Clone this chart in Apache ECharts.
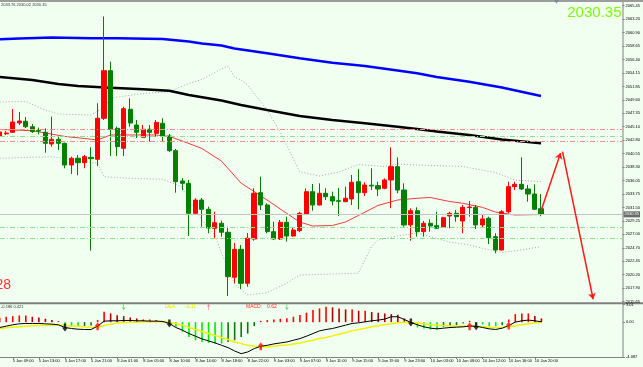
<!DOCTYPE html>
<html><head><meta charset="utf-8">
<script src="https://cdn.jsdelivr.net/npm/echarts@6/dist/echarts.min.js"></script>
<style>html,body{margin:0;padding:0;background:#f0fff0;}#c{width:643px;height:367px;}</style>
</head><body><div id="c"></div>
<script>
// ---------- data ----------
// bar index 0 = "5 Jan 05:00"; the first visible candle is bar 2
const timeLabels = ['5 Jan 05:00','5 Jan 09:00','5 Jan 13:00','5 Jan 17:00','5 Jan 21:00','8 Jan 01:00','8 Jan 05:00','8 Jan 10:00','8 Jan 14:00','8 Jan 18:00','8 Jan 22:00','9 Jan 03:00','9 Jan 07:00','9 Jan 11:00','9 Jan 15:00','9 Jan 19:00','9 Jan 23:00','10 Jan 03:00','10 Jan 08:00','10 Jan 12:00','10 Jan 16:00','10 Jan 20:00'];
const labelStep = 4;      // one time label every 4 bars
const firstCandleBar = 2; // bar index of the first candle in the arrays below
const viewBars = [2.046, 97.503]; // visible bar range of the window

const opens  = [2043.53,2043.90,2044.15,2045.72,2046.00,2045.09,2044.45,2044.15,2042.18,2042.97,2042.30,2038.65,2039.78,2039.04,2039.94,2039.61,2046.51,2054.52,2044.82,2041.46,2048.02,2045.38,2043.31,2044.66,2043.98,2045.67,2043.53,2041.06,2035.96,2035.57,2030.52,2032.76,2031.20,2028.00,2028.84,2027.33,2019.76,2024.47,2018.75,2026.20,2033.99,2031.92,2027.43,2026.20,2029.01,2026.70,2027.60,2030.41,2034.16,2031.92,2033.89,2033.32,2032.64,2032.48,2032.93,2035.84,2033.99,2035.24,2035.17,2034.73,2036.13,2038.37,2034.44,2028.56,2030.96,2027.43,2028.84,2028.44,2028.17,2030.07,2030.52,2029.23,2031.48,2031.53,2028.56,2029.68,2026.59,2024.35,2030.79,2035.00,2035.40,2034.61,2033.77,2031.30];
const highs  = [2044.54,2044.37,2048.07,2047.57,2046.73,2045.55,2044.93,2044.82,2046.78,2043.41,2042.40,2040.05,2040.33,2040.33,2041.63,2049.03,2063.63,2056.03,2045.13,2048.46,2049.87,2046.22,2045.38,2045.38,2046.22,2046.51,2043.87,2041.34,2036.46,2036.13,2033.05,2033.10,2031.63,2030.79,2029.28,2028.27,2025.53,2025.19,2027.21,2034.73,2036.68,2032.21,2029.11,2029.40,2029.95,2028.17,2030.79,2034.73,2035.45,2035.57,2034.73,2034.16,2034.78,2035.00,2036.97,2037.93,2035.74,2038.10,2035.84,2036.41,2041.63,2039.94,2035.57,2031.37,2031.53,2029.23,2029.51,2030.79,2029.95,2030.79,2031.08,2031.92,2032.59,2031.92,2030.24,2029.95,2027.16,2031.08,2035.84,2035.84,2039.94,2035.29,2035.40,2033.76];
const lows   = [2043.36,2043.70,2044.03,2045.38,2044.87,2044.03,2043.81,2040.72,2041.73,2041.17,2038.10,2037.14,2036.92,2038.10,2024.23,2038.48,2046.22,2040.16,2040.16,2040.16,2045.09,2043.19,2043.31,2042.57,2043.41,2042.57,2040.84,2034.00,2034.44,2026.70,2030.24,2028.27,2027.16,2026.37,2026.59,2016.61,2018.75,2017.79,2018.17,2025.91,2031.08,2027.16,2026.03,2026.03,2025.75,2026.59,2027.33,2030.24,2030.96,2031.84,2032.76,2031.87,2030.07,2032.43,2031.92,2031.20,2033.43,2034.44,2033.43,2034.56,2031.37,2033.89,2028.27,2025.91,2026.59,2026.59,2027.43,2027.88,2028.05,2028.00,2029.11,2027.16,2029.95,2027.88,2028.17,2025.36,2023.79,2024.27,2030.52,2034.44,2034.44,2032.48,2031.08,2030.02];
const closes = [2044.20,2044.03,2045.88,2046.05,2045.09,2044.25,2044.37,2042.30,2042.97,2042.30,2038.65,2039.78,2039.04,2040.05,2039.71,2046.51,2054.52,2044.66,2041.73,2048.12,2045.72,2044.15,2044.66,2044.15,2045.83,2043.53,2041.06,2035.84,2035.57,2030.52,2032.76,2031.20,2028.05,2028.94,2027.33,2019.86,2024.47,2018.75,2026.32,2033.89,2031.92,2027.43,2026.20,2029.01,2026.70,2027.71,2030.52,2034.16,2031.92,2033.89,2033.32,2032.59,2032.54,2033.05,2035.74,2033.99,2035.29,2035.12,2034.61,2036.13,2038.37,2034.44,2028.56,2030.96,2027.43,2028.84,2028.39,2028.00,2029.78,2030.52,2029.95,2031.53,2031.58,2028.56,2029.57,2026.42,2024.35,2030.79,2035.00,2035.40,2034.61,2033.77,2031.20,2030.35];

// moving averages / bands: [bar index, price] read at sample bars
const blueMA  = [[2,2059.80],[5,2059.93],[10,2060.10],[16,2059.98],[20,2059.97],[27,2059.85],[31,2059.43],[33,2059.09],[36,2058.75],[38,2058.25],[43,2057.44],[48,2056.60],[53,2055.86],[58,2055.31],[63,2054.55],[66,2054.08],[69,2053.46],[74,2052.67],[79,2051.69],[85,2050.26]];
const blackMA = [[2,2053.46],[7,2052.95],[11,2052.28],[14,2051.94],[19,2051.66],[24,2051.39],[28,2051.13],[31,2050.43],[36,2049.50],[39,2048.75],[43,2047.90],[48,2046.89],[53,2046.22],[58,2045.67],[63,2045.09],[66,2044.71],[69,2044.29],[74,2043.70],[79,2042.94],[85,2042.30]];
const redMA   = [[2,2044.62],[7,2044.42],[12,2043.45],[15,2043.11],[17,2042.86],[19,2043.70],[26,2043.70],[28,2043.45],[30,2042.69],[33,2041.43],[36,2039.32],[39,2035.62],[43,2032.76],[46,2030.52],[48,2029.06],[50,2028.39],[53,2028.47],[55,2029.06],[57,2030.15],[60,2031.84],[63,2032.76],[66,2033.05],[68,2033.18],[71,2032.51],[73,2032.21],[76,2031.53],[78,2030.74],[81,2030.24],[85,2030.32]];
const bbUpper = [[2,2049.25],[6,2049.33],[9,2047.90],[11,2047.23],[16,2047.06],[18,2048.41],[19,2049.92],[24,2050.68],[28,2050.98],[31,2052.36],[33,2053.03],[36,2054.80],[37,2055.31],[38,2053.46],[39,2052.95],[40,2052.11],[43,2047.90],[45,2044.20],[48,2037.52],[51,2036.80],[54,2037.47],[57,2038.73],[61,2038.40],[63,2038.82],[66,2038.65],[73,2038.40],[78,2037.39],[81,2036.13],[85,2035.84]];
const bbLower = [[2,2039.78],[10,2040.05],[17,2038.94],[18,2036.68],[22,2036.41],[27,2036.25],[30,2034.95],[31,2032.76],[33,2029.40],[35,2026.87],[36,2023.85],[38,2018.63],[40,2016.78],[43,2017.17],[46,2018.75],[48,2020.14],[53,2020.31],[57,2020.43],[59,2024.91],[60,2026.03],[63,2026.71],[66,2027.21],[71,2025.70],[74,2025.19],[76,2024.64],[79,2023.93],[82,2024.35],[85,2024.91]];

const priceTicks = ['2065.45','2063.20','2060.90','2058.65','2056.40','2054.15','2051.85','2049.60','2047.35','2045.10','2042.80','2040.55','2038.30','2036.05','2033.75','2031.50','2029.25','2027.00','2024.70','2022.45','2020.20','2017.90','2015.65'];
const redLevels   = [2044.66, 2042.64];
const greenLevels = [2043.53, 2028.22, 2026.32];
const lastPrice = 2030.35;
const headerText = '2033.76 2030.02 2030.35';
const forecastUp   = [[85,2030.91],[88,2040.67]];
const forecastDown = [[88.3,2040.90],[93,2016.06]];

// MACD window
const macdHist = [0.75,0.93,1.04,1.16,1.16,0.93,0.81,0.58,0.35,0.17,-0.69,-0.81,-0.81,-0.69,-0.58,0.35,1.80,1.50,1.20,1.04,0.81,0.64,0.46,0.46,0.35,0.17,-0.23,-0.81,-1.68,-2.55,-3.13,-3.42,-3.59,-3.70,-3.70,-3.42,-3.13,-2.55,-1.97,-0.69,0.23,0.35,0.46,0.58,0.69,0.93,1.22,1.62,2.08,2.37,2.66,2.55,2.37,2.20,2.20,1.97,1.97,1.74,1.62,1.50,1.39,1.27,0.64,-0.23,-0.93,-1.10,-1.27,-1.27,-0.81,-0.69,-0.52,-0.23,0.23,-0.23,-0.40,-0.69,-0.69,-0.52,0.46,1.39,1.50,1.50,1.04,0.64];
const macdDif  = [-0.93,-0.69,-0.46,-0.29,-0.23,-0.23,-0.23,-0.29,-0.35,-0.46,-0.93,-1.10,-1.22,-1.27,-1.27,-0.69,0.17,0.23,0.23,0.29,0.29,0.23,0.23,0.17,0.17,0.12,-0.23,-0.93,-1.39,-1.97,-2.43,-2.90,-3.24,-3.59,-4.00,-4.40,-4.98,-5.44,-5.15,-4.57,-4.17,-4.00,-3.76,-3.59,-3.42,-3.13,-2.84,-2.43,-1.97,-1.51,-1.27,-1.10,-0.81,-0.52,-0.23,-0.12,0.06,0.23,0.35,0.52,0.93,0.93,0.46,-0.06,-0.46,-0.81,-1.04,-1.16,-1.04,-0.93,-0.87,-0.81,-0.69,-0.69,-0.93,-1.16,-1.27,-1.04,-0.58,0.00,0.23,0.35,0.23,0.06];
const macdDea  = [-1.10,-0.98,-0.87,-0.78,-0.70,-0.64,-0.60,-0.57,-0.55,-0.55,-0.58,-0.65,-0.73,-0.82,-0.90,-0.93,-0.58,-0.35,-0.17,-0.06,0.00,0.00,0.06,0.06,0.06,0.06,0.00,-0.23,-0.52,-0.93,-1.27,-1.62,-1.97,-2.32,-2.66,-3.01,-3.42,-3.71,-4.00,-4.17,-4.28,-4.28,-4.17,-4.05,-3.94,-3.76,-3.59,-3.36,-3.13,-2.84,-2.66,-2.37,-2.08,-1.80,-1.51,-1.27,-1.04,-0.81,-0.64,-0.46,-0.29,-0.12,0.00,-0.06,-0.17,-0.29,-0.41,-0.52,-0.58,-0.64,-0.69,-0.69,-0.69,-0.75,-0.81,-0.87,-0.93,-0.93,-0.81,-0.64,-0.46,-0.29,-0.17,-0.06];
const crossDownBars = [12,28,65,75];
const crossUpBars   = [17,42,74,80];
const signalDownBars = [21,46];
const signalUpBars   = [34];
const signalLevel = 2.6;
const macdMax = 3.01, macdMin = -6.02;
const macdAxisText = ['3.01','0.00','-4.087'];
const macdHeader = '-0.186 0.421';
const deaText = '-0.11', macdText = '0.62';

// ---------- build ----------
const idx = j => firstCandleBar + j;
const candleData = opens.map((o, j) => [idx(j), o, closes[j], lows[j], highs[j]]);
const histData = macdHist.map((v, j) => {
  const prev = j > 0 ? macdHist[j-1] : v;
  let c;
  if (v >= 0) c = v >= prev ? '#ff0000' : '#b00000';
  else c = v <= prev ? '#00ee00' : '#008000';
  return {value:[idx(j), v], itemStyle:{color:c}};
});
const difData = macdDif.map((v, j) => [idx(j), v]);
const deaData = macdDea.map((v, j) => [idx(j), v]);
const difAt = i => macdDif[i - firstCandleBar];
const labelBars = timeLabels.map((_, j) => j * labelStep).filter(b => b >= viewBars[0]);
const downArrow = 'path://M3,0 L7,0 L7,6 L10,6 L5,12 L0,6 L3,6 Z';
const upArrow = 'path://M5,0 L10,6 L7,6 L7,12 L3,12 L3,6 L0,6 Z';
const thinDown = 'path://M2,0 L3,0 L3,7 L5,5 L5,6 L2.5,10 L0,6 L0,5 L2,7 Z';
const thinUp = 'path://M2.5,0 L5,4 L5,5 L3,3 L3,10 L2,10 L2,3 L0,5 L0,4 Z';

const FONT = '"Liberation Sans", Arial, sans-serif';
const dashDot = [5,2,1,2];

const markData = [
  {yAxis:lastPrice, lineStyle:{color:'#c4c4c4', type:'solid', width:1},
   label:{show:true, position:'end', distance:1, formatter: lastPrice.toFixed(2), color:'#fff', backgroundColor:'#6a6a6a', fontSize:4, fontFamily:FONT, padding:[1,1,1,1]}},
  ...redLevels.map(v => ({yAxis:v, lineStyle:{color:'#ff8c8c', type:dashDot, width:1}, label:{show:false}})),
  ...greenLevels.map(v => ({yAxis:v, lineStyle:{color:'#8fe08f', type:dashDot, width:1}, label:{show:false}})),
  [{coord:forecastUp[0], symbol:'none'}, {coord:forecastUp[1], symbol:'arrow', symbolSize:6, lineStyle:{color:'#ff1a1a', width:1.5, type:'solid'}, label:{show:false}}],
  [{coord:forecastDown[0], symbol:'none'}, {coord:forecastDown[1], symbol:'arrow', symbolSize:6, lineStyle:{color:'#ff1a1a', width:1.5, type:'solid'}, label:{show:false}}]
];

const lineS = (data, color, width, type) => ({type:'line', data, xAxisIndex:0, yAxisIndex:0, symbol:'none', silent:true,
  lineStyle:{color, width, type: type || 'solid'}, z:3});

const chart = echarts.init(document.getElementById('c'), null, {renderer:'canvas'});
chart.setOption({
  animation:false,
  backgroundColor:'#f0fff0',
  textStyle:{fontFamily:FONT},
  grid:[
    {left:0, right:20, top:5.7, height:296},
    {left:0, right:20, top:304.7, height:52.3}
  ],
  xAxis:[
    {type:'value', gridIndex:0, min:viewBars[0], max:viewBars[1], axisLine:{show:false}, axisTick:{show:false}, axisLabel:{show:false}, splitLine:{show:false}},
    {type:'value', gridIndex:1, min:viewBars[0], max:viewBars[1],
     axisLine:{show:true, onZero:false, lineStyle:{color:'#808080', width:1}},
     axisTick:{show:true, customValues:labelBars, length:2, lineStyle:{color:'#808080'}},
     axisLabel:{show:true, customValues:labelBars, formatter:(v)=> timeLabels[Math.round(v/labelStep)] || '', align:'left', fontSize:4, margin:2, color:'#000', fontFamily:FONT},
     splitLine:{show:false}}
  ],
  yAxis:[
    {type:'value', gridIndex:0, position:'right', min:2015.65, max:2065.45,
     axisLine:{show:false}, splitLine:{show:false},
     axisTick:{show:true, length:2, customValues:priceTicks.map(Number), lineStyle:{color:'#808080'}},
     axisLabel:{show:true, customValues:priceTicks.map(Number), formatter:(v)=>Number(v).toFixed(2), fontSize:4, margin:3, color:'#000', fontFamily:FONT}},
    {type:'value', gridIndex:1, position:'right', min:macdMin, max:macdMax,
     axisLine:{show:false}, splitLine:{show:false},
     axisTick:{show:true, length:2, customValues:[macdMax, 0, macdMin], lineStyle:{color:'#808080'}},
     axisLabel:{show:true, customValues:[macdMax, 0, macdMin], formatter:(v)=> v > 0 ? macdAxisText[0] : (v === 0 ? macdAxisText[1] : macdAxisText[2]), fontSize:4, margin:3, color:'#000', fontFamily:FONT}}
  ],
  series:[
    lineS(bbUpper, '#a8a8a8', 1, [1,2]),
    lineS(bbLower, '#a8a8a8', 1, [1,2]),
    {type:'candlestick', xAxisIndex:0, yAxisIndex:0, data:candleData, encode:{x:0, y:[1,2,3,4]}, barWidth:4.6, silent:true, z:4,
     itemStyle:{color:'#ff0000', color0:'#008000', borderColor:'#ff0000', borderColor0:'#008000', borderWidth:1},
     markLine:{silent:true, symbol:['none','none'], animation:false, data:markData}},
    lineS(redMA, '#f03c3c', 1),
    lineS(blackMA, '#000000', 2.5),
    lineS(blueMA, '#0000ff', 2.5),
    {type:'bar', xAxisIndex:1, yAxisIndex:1, data:histData, barWidth:1.6, silent:true},
    {type:'line', xAxisIndex:1, yAxisIndex:1, data:deaData, symbol:'none', silent:true, lineStyle:{color:'#f2f200', width:1.5}, z:3},
    {type:'line', xAxisIndex:1, yAxisIndex:1, data:difData, symbol:'none', silent:true, lineStyle:{color:'#000', width:1}, z:4},
    {type:'scatter', xAxisIndex:1, yAxisIndex:1, data:crossDownBars.map(i=>[i, difAt(i)]), symbol:downArrow, symbolSize:[6,8], itemStyle:{color:'#000'}, silent:true, z:6},
    {type:'scatter', xAxisIndex:1, yAxisIndex:1, data:crossUpBars.map(i=>[i, difAt(i)]), symbol:upArrow, symbolSize:[6,8], itemStyle:{color:'#ff1010'}, silent:true, z:6},
    {type:'scatter', xAxisIndex:1, yAxisIndex:1, data:signalDownBars.map(i=>[i, signalLevel]), symbol:thinDown, symbolSize:[3,6], itemStyle:{color:'#22cc22'}, silent:true, z:6},
    {type:'scatter', xAxisIndex:1, yAxisIndex:1, data:signalUpBars.map(i=>[i, signalLevel]), symbol:thinUp, symbolSize:[3,6], itemStyle:{color:'#ff5050'}, silent:true, z:6}
  ],
  graphic:[
    {type:'rect', shape:{x:0, y:0, width:643, height:2}, style:{fill:'#9c9c9c'}, silent:true},
    {type:'rect', shape:{x:0, y:302.3, width:643, height:2}, style:{fill:'#808080'}, silent:true},
    {type:'line', shape:{x1:623, y1:2, x2:623, y2:357.5}, style:{stroke:'#808080', lineWidth:1}, silent:true},
    {type:'polygon', shape:{points:[[554,0],[559,0],[556.5,3.5]]}, style:{fill:'#7a8aa0'}, silent:true},
    {type:'text', x:1, y:3, style:{text:headerText, fill:'#333', font:'4px ' + FONT}, silent:true},
    {type:'text', x:621.5, y:5, style:{text:lastPrice.toFixed(2), fill:'#7cfc00', font:'15px ' + FONT, textAlign:'right'}, silent:true},
    {type:'text', x:-4.6, y:278, style:{text:'28', fill:'#ff3333', font:'14px ' + FONT}, silent:true},
    {type:'text', x:1, y:304.5, style:{text:macdHeader, fill:'#333', font:'4px ' + FONT}, silent:true},
    {type:'text', x:165, y:303.8, style:{text:'DEA:', fill:'#e6e600', font:'5px ' + FONT}, silent:true},
    {type:'text', x:185, y:303.8, style:{text:deaText, fill:'#e6e600', font:'5px ' + FONT}, silent:true},
    {type:'text', x:246, y:303.8, style:{text:'MACD:', fill:'#ff3030', font:'5px ' + FONT}, silent:true},
    {type:'text', x:267, y:303.8, style:{text:macdText, fill:'#ff3030', font:'5px ' + FONT}, silent:true}
  ]
});
</script>
</body></html>
